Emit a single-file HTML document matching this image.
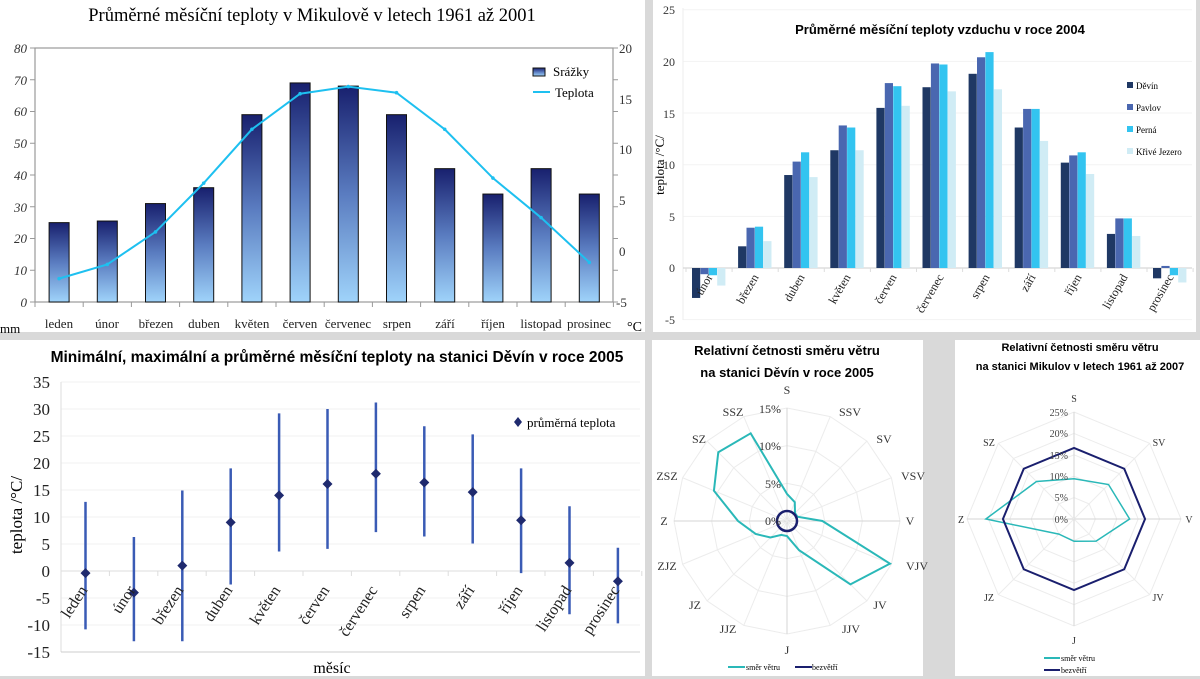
<!DOCTYPE html>
<html><head><meta charset="utf-8"><style>
html,body{margin:0;padding:0;background:#d9d9d9;}
svg{display:block;}
.s{font-family:"Liberation Serif",serif;}
.b{font-family:"Liberation Sans",sans-serif;font-weight:bold;}
</style></head><body>
<svg id="c" width="1200" height="679" xmlns="http://www.w3.org/2000/svg">
<defs>
<linearGradient id="bg" x1="0" y1="0" x2="0" y2="1">
<stop offset="0" stop-color="#18206e"/><stop offset="0.5" stop-color="#5a7cc0"/><stop offset="1" stop-color="#9fd3fa"/>
</linearGradient>
</defs>
<rect x="0" y="0" width="1200" height="679" fill="#d9d9d9"/>
<rect x="0" y="0" width="645" height="332" fill="#fff"/>
<rect x="653" y="0" width="543" height="332" fill="#fff"/>
<rect x="0" y="340" width="645" height="336" fill="#fff"/>
<rect x="652" y="340" width="271" height="336" fill="#fff"/>
<rect x="955" y="340" width="245" height="336" fill="#fff"/>

<!-- Chart 1 -->
<g id="g1"></g>
<text class="s" x="312" y="21" font-size="18.5" text-anchor="middle">Průměrné měsíční teploty v Mikulově v letech 1961 až 2001</text>
<g class="s" font-size="13" font-style="italic" fill="#333" text-anchor="end">
<text x="27" y="53">80</text><text x="27" y="85">70</text><text x="27" y="116">60</text><text x="27" y="148">50</text><text x="27" y="180">40</text><text x="27" y="212">30</text><text x="27" y="243">20</text><text x="27" y="275">10</text><text x="27" y="307">0</text>
</g>
<g class="s" font-size="13" fill="#333">
<text x="619" y="53">20</text><text x="619" y="104">15</text><text x="619" y="154">10</text><text x="619" y="205">5</text><text x="619" y="256">0</text><text x="616" y="307">-5</text>
</g>
<g class="s" font-size="13" fill="#222" text-anchor="middle">
<text x="59" y="328">leden</text><text x="107" y="328">únor</text><text x="156" y="328">březen</text><text x="204" y="328">duben</text><text x="252" y="328">květen</text><text x="300" y="328">červen</text><text x="348" y="328">červenec</text><text x="397" y="328">srpen</text><text x="445" y="328">září</text><text x="493" y="328">říjen</text><text x="541" y="328">listopad</text><text x="589" y="328">prosinec</text>
</g>
<text class="s" x="0" y="333" font-size="13">mm</text>
<text class="s" x="627" y="331" font-size="14">°C</text>
<rect x="533" y="68" width="12" height="8" fill="url(#bg)" stroke="#111" stroke-width="1"/>
<text class="s" x="553" y="76" font-size="13">Srážky</text>
<line x1="533" y1="92" x2="550" y2="92" stroke="#1ec0f0" stroke-width="2"/>
<text class="s" x="555" y="97" font-size="13">Teplota</text>

<!-- Chart 2 -->
<g id="g2"></g>
<text class="b" x="940" y="34" font-size="13" text-anchor="middle">Průměrné měsíční teploty vzduchu v roce 2004</text>
<g class="s" font-size="12" fill="#333" text-anchor="end">
<text x="675" y="14">25</text><text x="675" y="66">20</text><text x="675" y="118">15</text><text x="675" y="169">10</text><text x="675" y="221">5</text><text x="675" y="272">0</text><text x="675" y="324">-5</text>
</g>
<text class="s" transform="translate(664,165) rotate(-90)" font-size="13" text-anchor="middle">teplota /°C/</text>
<g class="s" font-size="12" fill="#222" text-anchor="end">
<text transform="translate(713,277) rotate(-60)">únor</text>
<text transform="translate(759,277) rotate(-60)">březen</text>
<text transform="translate(805,277) rotate(-60)">duben</text>
<text transform="translate(851,277) rotate(-60)">květen</text>
<text transform="translate(897,277) rotate(-60)">červen</text>
<text transform="translate(944,277) rotate(-60)">červenec</text>
<text transform="translate(990,277) rotate(-60)">srpen</text>
<text transform="translate(1036,277) rotate(-60)">září</text>
<text transform="translate(1082,277) rotate(-60)">říjen</text>
<text transform="translate(1128,277) rotate(-60)">listopad</text>
<text transform="translate(1174,277) rotate(-60)">prosinec</text>
</g>
<rect x="1127" y="82" width="6" height="6" fill="#1f3864"/><text class="s" x="1136" y="89" font-size="9">Děvín</text>
<rect x="1127" y="104" width="6" height="6" fill="#4a67b0"/><text class="s" x="1136" y="111" font-size="9">Pavlov</text>
<rect x="1127" y="126" width="6" height="6" fill="#33c4f0"/><text class="s" x="1136" y="133" font-size="9">Perná</text>
<rect x="1127" y="148" width="6" height="6" fill="#d0ecf5"/><text class="s" x="1136" y="155" font-size="9">Křivé Jezero</text>

<!-- Chart 3 -->
<g id="g3"></g>
<text class="b" x="337" y="362" font-size="15.5" text-anchor="middle">Minimální, maximální a průměrné měsíční teploty na stanici Děvín v roce 2005</text>
<g class="s" font-size="17" fill="#222" text-anchor="end">
<text x="50" y="388">35</text><text x="50" y="415">30</text><text x="50" y="442">25</text><text x="50" y="469">20</text><text x="50" y="496">15</text><text x="50" y="523">10</text><text x="50" y="550">5</text><text x="50" y="577">0</text><text x="50" y="604">-5</text><text x="50" y="631">-10</text><text x="50" y="658">-15</text>
</g>
<text class="s" transform="translate(22,515) rotate(-90)" font-size="17" text-anchor="middle">teplota /°C/</text>
<text class="s" x="332" y="673" font-size="16" text-anchor="middle">měsíc</text>
<g class="s" font-size="16" fill="#222" text-anchor="end">
<text transform="translate(88,590) rotate(-57)">leden</text>
<text transform="translate(136,590) rotate(-57)">únor</text>
<text transform="translate(184,590) rotate(-57)">březen</text>
<text transform="translate(233,590) rotate(-57)">duben</text>
<text transform="translate(281,590) rotate(-57)">květen</text>
<text transform="translate(330,590) rotate(-57)">červen</text>
<text transform="translate(378,590) rotate(-57)">červenec</text>
<text transform="translate(426,590) rotate(-57)">srpen</text>
<text transform="translate(475,590) rotate(-57)">září</text>
<text transform="translate(523,590) rotate(-57)">říjen</text>
<text transform="translate(572,590) rotate(-57)">listopad</text>
<text transform="translate(620,590) rotate(-57)">prosinec</text>
</g>
<path d="M518,417 L522,422 L518,427 L514,422 Z" fill="#1f2a6e"/>
<text class="s" x="527" y="427" font-size="13">průměrná teplota</text>

<!-- Radar 1 -->
<g id="g4"></g>
<text class="b" x="787" y="355" font-size="13" text-anchor="middle">Relativní četnosti směru větru</text>
<text class="b" x="787" y="377" font-size="13" text-anchor="middle">na stanici Děvín v roce 2005</text>
<g class="s" font-size="12" fill="#333" text-anchor="middle">
<text x="787" y="394">S</text><text x="850" y="416">SSV</text><text x="884" y="443">SV</text><text x="913" y="480">VSV</text><text x="910" y="525">V</text><text x="917" y="570">VJV</text><text x="880" y="609">JV</text><text x="851" y="633">JJV</text><text x="787" y="654">J</text><text x="728" y="633">JJZ</text><text x="695" y="609">JZ</text><text x="667" y="570">ZJZ</text><text x="664" y="525">Z</text><text x="667" y="480">ZSZ</text><text x="699" y="443">SZ</text><text x="733" y="416">SSZ</text>
</g>
<g class="s" font-size="12" fill="#333" text-anchor="end">
<text x="781" y="413">15%</text><text x="781" y="450">10%</text><text x="781" y="488">5%</text><text x="781" y="525">0%</text>
</g>
<line x1="728" y1="667" x2="745" y2="667" stroke="#2ab8b8" stroke-width="2"/><text class="s" x="746" y="670" font-size="8">směr větru</text>
<line x1="795" y1="667" x2="812" y2="667" stroke="#1a1f6e" stroke-width="2"/><text class="s" x="812" y="670" font-size="8">bezvětří</text>

<!-- Radar 2 -->
<g id="g5"></g>
<text class="b" x="1080" y="351" font-size="11" text-anchor="middle">Relativní četnosti směru větru</text>
<text class="b" x="1080" y="370" font-size="11" text-anchor="middle">na stanici Mikulov v letech 1961 až 2007</text>
<g class="s" font-size="10" fill="#333" text-anchor="middle">
<text x="1074" y="402">S</text><text x="1159" y="446">SV</text><text x="1189" y="523">V</text><text x="1158" y="601">JV</text><text x="1074" y="644">J</text><text x="989" y="601">JZ</text><text x="961" y="523">Z</text><text x="989" y="446">SZ</text>
</g>
<g class="s" font-size="10" fill="#444" text-anchor="end">
<text x="1068" y="416">25%</text><text x="1068" y="437">20%</text><text x="1068" y="459">15%</text><text x="1068" y="480">10%</text><text x="1068" y="501">5%</text><text x="1068" y="523">0%</text>
</g>
<line x1="1044" y1="658" x2="1060" y2="658" stroke="#2ab8b8" stroke-width="2"/><text class="s" x="1061" y="661" font-size="8">směr větru</text>
<line x1="1044" y1="670" x2="1060" y2="670" stroke="#1a1f6e" stroke-width="2"/><text class="s" x="1061" y="673" font-size="8">bezvětří</text>
</svg>
<script>
var NS="http://www.w3.org/2000/svg";
function el(g,t,a){var e=document.createElementNS(NS,t);for(var k in a)e.setAttribute(k,a[k]);document.getElementById(g).appendChild(e);return e;}
(function(){
 el("g1","rect",{x:35,y:48,width:578,height:254,fill:"none",stroke:"#999","stroke-width":1.2});
 for(var i=0;i<=12;i++){var x=35+48.2*i;el("g1","line",{x1:x,y1:302,x2:x,y2:307,stroke:"#999"});}
 for(var j=0;j<=8;j++){var y=302-31.75*j;el("g1","line",{x1:30,y1:y,x2:35,y2:y,stroke:"#999"});el("g1","line",{x1:613,y1:y,x2:618,y2:y,stroke:"#999"});}
 var r=[25,25.5,31,36,59,69,68,59,42,34,42,34];
 var t=[-2.7,-1.3,1.9,6.7,12,15.5,16.2,15.6,12,7.2,3.3,-1.1];
 var pts=[];
 for(var i=0;i<12;i++){var cx=59.1+48.2*i;var h=r[i]*3.175;
  el("g1","rect",{x:cx-10,y:302-h,width:20,height:h,fill:"url(#bg)",stroke:"#111","stroke-width":1});
  pts.push(cx+","+(302-(t[i]+5)*10.16));}
 el("g1","polyline",{points:pts.join(" "),fill:"none",stroke:"#1ec0f0","stroke-width":2});
 pts.forEach(function(p){var a=p.split(",");el("g1","circle",{cx:a[0],cy:a[1],r:1.8,fill:"#1ec0f0"});});
})();
(function(){
 for(var v=-5;v<=25;v+=5){var y=268-v*10.33;el("g2","line",{x1:683,y1:y,x2:1192,y2:y,stroke:"#f3f3f3"});}
 el("g2","line",{x1:683,y1:8,x2:683,y2:320,stroke:"#eee"});
 el("g2","line",{x1:683,y1:268,x2:1192,y2:268,stroke:"#ccc"});
 var d=[[-2.9,2.1,9,11.4,15.5,17.5,18.8,13.6,10.2,3.3,-1],[-0.6,3.9,10.3,13.8,17.9,19.8,20.4,15.4,10.9,4.8,0.2],[-0.7,4,11.2,13.6,17.6,19.7,20.9,15.4,11.2,4.8,-0.7],[-1.7,2.6,8.8,11.4,15.7,17.1,17.3,12.3,9.1,3.1,-1.4]];
 var c=["#1f3864","#4a67b0","#33c4f0","#d0ecf5"];
 for(var i=0;i<11;i++){for(var s=0;s<4;s++){var x=692+46.1*i+s*8.4;var v=d[s][i];var y0=268,y1=268-v*10.33;
  el("g2","rect",{x:x,y:Math.min(y0,y1),width:8.2,height:Math.abs(y1-y0),fill:c[s]});}}
 for(var i=0;i<=11;i++){var x=686+46.1*i;el("g2","line",{x1:x,y1:268,x2:x,y2:272,stroke:"#ddd"});}
})();
(function(){
 for(var v=-15;v<=35;v+=5){var y=571-v*5.4;el("g3","line",{x1:61,y1:y,x2:640,y2:y,stroke:"#f2f2f2"});}
 el("g3","line",{x1:61,y1:382,x2:61,y2:652,stroke:"#ddd"});
 el("g3","line",{x1:61,y1:652,x2:640,y2:652,stroke:"#ccc"});
 el("g3","line",{x1:61,y1:571,x2:640,y2:571,stroke:"#ddd"});
 for(var i=0;i<=12;i++){var x=61+48.4*i;el("g3","line",{x1:x,y1:571,x2:x,y2:576,stroke:"#ddd"});}
 var m=[[-0.4,-10.8,12.8],[-4,-13,6.3],[1,-13,14.9],[9,-2.5,19],[14,3.6,29.2],[16.1,4.1,30],[18,7.2,31.2],[16.4,6.4,26.8],[14.6,5.1,25.3],[9.4,-0.4,19],[1.5,-8,12],[-1.9,-9.7,4.3]];
 for(var i=0;i<12;i++){var cx=85.5+48.4*i;var a=m[i];
  el("g3","line",{x1:cx,y1:571-a[1]*5.4,x2:cx,y2:571-a[2]*5.4,stroke:"#3a5bb5","stroke-width":2.5});
  var y=571-a[0]*5.4;el("g3","path",{d:"M"+cx+","+(y-5)+" L"+(cx+5)+","+y+" L"+cx+","+(y+5)+" L"+(cx-5)+","+y+" Z",fill:"#1f2a6e"});}
})();
function radar(g,cx,cy,R,n,max,step,series){
 for(var k=step;k<=max+0.01;k+=step){var p=[];for(var i=0;i<n;i++){var a=2*Math.PI*i/n;var r=R*k/max;p.push((cx+r*Math.sin(a))+","+(cy-r*Math.cos(a)));}
  el(g,"polygon",{points:p.join(" "),fill:"none",stroke:"#ececec"});}
 for(var i=0;i<n;i++){var a=2*Math.PI*i/n;el(g,"line",{x1:cx,y1:cy,x2:cx+R*Math.sin(a),y2:cy-R*Math.cos(a),stroke:(i%(n/4)==0)?"#d5d5d5":"#ececec"});}
 series.forEach(function(s){var p=[];for(var i=0;i<n;i++){var a=2*Math.PI*i/n;var r=R*s.v[i]/max;p.push((cx+r*Math.sin(a))+","+(cy-r*Math.cos(a)));}
  el(g,"polygon",{points:p.join(" "),fill:"none",stroke:s.c,"stroke-width":s.w});});
}
radar("g4",787,521,113,16,15,5,[{v:[3.6,2.7,1.5,1.5,4.7,14.8,11.9,4.2,2,2,3.1,4.5,6.5,10.5,12.9,12.6],c:"#2ab8b8",w:2}]);
el("g4","circle",{cx:787,cy:521,r:10,fill:"none",stroke:"#1a1f6e","stroke-width":2.5});
radar("g5",1074,519,107,8,25,5,[{v:[9.4,11.4,13,7.3,5.2,5,20.6,12.4],c:"#2ab8b8",w:1.5},{v:[16.6,16.6,16.6,16.6,16.6,16.6,16.6,16.6],c:"#1a1f6e",w:2}]);
</script>
</body></html>
